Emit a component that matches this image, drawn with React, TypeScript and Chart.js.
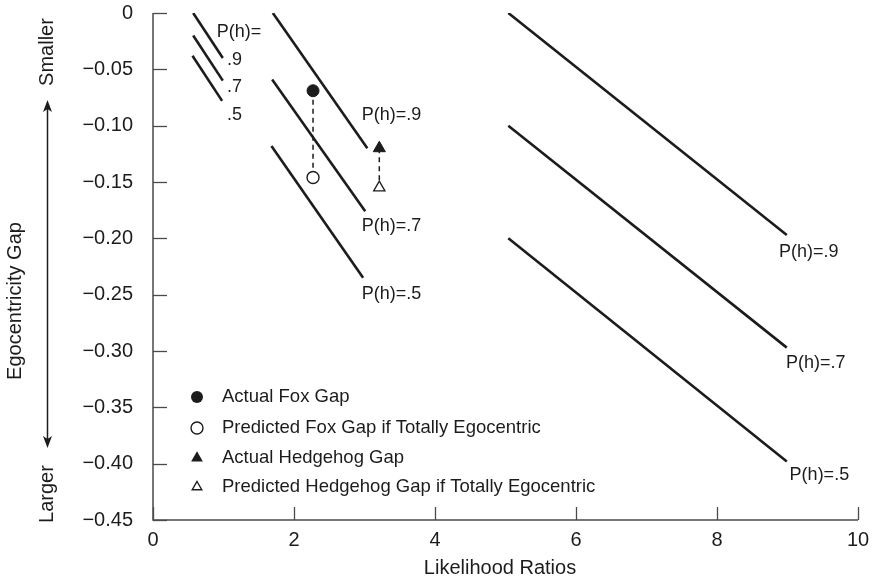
import React, { useEffect, useRef } from "react";
import { Chart, registerables } from "chart.js";

Chart.register(...registerables);

// ---- tick values ----
const X_TICKS = [0, 2, 4, 6, 8, 10];
const Y_TICKS = [0, -0.05, -0.1, -0.15, -0.2, -0.25, -0.3, -0.35, -0.4, -0.45];

// ---- P(h) curves (segments) ----
const KEY_P9 = [{ x: 0.57, y: 0 }, { x: 0.99, y: -0.04 }];
const KEY_P7 = [{ x: 0.57, y: -0.02 }, { x: 0.99, y: -0.06 }];
const KEY_P5 = [{ x: 0.56, y: -0.038 }, { x: 0.98, y: -0.078 }];

const MID_P9 = [{ x: 1.7, y: 0 }, { x: 3.04, y: -0.12 }];
const MID_P7 = [{ x: 1.69, y: -0.059 }, { x: 3.01, y: -0.176 }];
const MID_P5 = [{ x: 1.68, y: -0.118 }, { x: 2.98, y: -0.235 }];

const RIGHT_P9 = [{ x: 5.04, y: 0 }, { x: 8.99, y: -0.197 }];
const RIGHT_P7 = [{ x: 5.04, y: -0.1 }, { x: 8.99, y: -0.297 }];
const RIGHT_P5 = [{ x: 5.04, y: -0.2 }, { x: 8.99, y: -0.398 }];

// ---- observed / predicted gaps ----
const FOX_X = 2.27;
const FOX_ACTUAL = -0.069;
const FOX_PREDICTED = -0.146;
const HEDGEHOG_X = 3.21;
const HEDGEHOG_ACTUAL = -0.12;
const HEDGEHOG_PREDICTED = -0.155;

// ---- text ----
const LEGEND_LABELS = [
  "Actual Fox Gap",
  "Predicted Fox Gap if Totally Egocentric",
  "Actual Hedgehog Gap",
  "Predicted Hedgehog Gap if Totally Egocentric",
];
const CURVE_LABELS = [
  { text: "P(h)=", x: 0.905, y: -0.017 },
  { text: ".9", x: 1.05, y: -0.042 },
  { text: ".7", x: 1.05, y: -0.066 },
  { text: ".5", x: 1.05, y: -0.091 },
  { text: "P(h)=.9", x: 2.96, y: -0.091 },
  { text: "P(h)=.7", x: 2.96, y: -0.189 },
  { text: "P(h)=.5", x: 2.96, y: -0.249 },
  { text: "P(h)=.9", x: 8.88, y: -0.212 },
  { text: "P(h)=.7", x: 8.98, y: -0.311 },
  { text: "P(h)=.5", x: 9.03, y: -0.41 },
];
const X_TITLE = "Likelihood Ratios";
const Y_TITLE = "Egocentricity Gap";
const Y_TOP_NOTE = "Smaller";
const Y_BOTTOM_NOTE = "Larger";

const FONT = "'Liberation Sans', Arial, Helvetica, sans-serif";
const INK = "#1c1c1c";
const AXIS = "#4a4a4a";

function fmtY(v: number) {
  if (Math.abs(v) < 1e-9) return "0";
  return "\u2212" + Math.abs(v).toFixed(2);
}

function drawMarker(ctx: CanvasRenderingContext2D, kind: string, x: number, y: number, r: number) {
  ctx.save();
  ctx.lineWidth = 1.4;
  ctx.strokeStyle = INK;
  ctx.fillStyle = INK;
  ctx.beginPath();
  if (kind === "circle" || kind === "ocircle") {
    ctx.arc(x, y, r, 0, Math.PI * 2);
  } else {
    const h = r * 1.5;
    const w = r * Math.sqrt(3);
    ctx.moveTo(x, y - r);
    ctx.lineTo(x + w / 2, y - r + h);
    ctx.lineTo(x - w / 2, y - r + h);
    ctx.closePath();
  }
  if (kind === "circle" || kind === "triangle") ctx.fill();
  else {
    ctx.fillStyle = "#fff";
    ctx.fill();
    ctx.stroke();
  }
  ctx.restore();
}

const decorPlugin = {
  id: "decor",
  afterDraw(chart: any) {
    const ctx: CanvasRenderingContext2D = chart.ctx;
    const xs = chart.scales.x;
    const ys = chart.scales.y;
    const { left, right, top, bottom } = chart.chartArea;
    ctx.save();
    // axes
    ctx.strokeStyle = AXIS;
    ctx.lineWidth = 1.5;
    ctx.beginPath();
    ctx.moveTo(left, top);
    ctx.lineTo(left, bottom);
    ctx.lineTo(right, bottom);
    ctx.stroke();
    // inward ticks
    ctx.lineWidth = 1.3;
    for (const v of Y_TICKS) {
      const py = Math.round(ys.getPixelForValue(v)) + 0.5;
      ctx.beginPath();
      ctx.moveTo(left, py);
      ctx.lineTo(left + 14, py);
      ctx.stroke();
    }
    for (const v of X_TICKS) {
      const px = Math.round(xs.getPixelForValue(v)) + 0.5;
      ctx.beginPath();
      ctx.moveTo(px, bottom);
      ctx.lineTo(px, bottom - 13);
      ctx.stroke();
    }

    // curve labels
    ctx.fillStyle = INK;
    ctx.font = `18px ${FONT}`;
    ctx.textAlign = "left";
    ctx.textBaseline = "middle";
    for (const l of CURVE_LABELS) {
      ctx.fillText(l.text, xs.getPixelForValue(l.x), ys.getPixelForValue(l.y));
    }

    // legend
    const kinds = ["circle", "ocircle", "triangle", "otriangle"];
    const rowY = [397, 428, 458, 487];
    const radii = [6, 6, 6.8, 5.5];
    LEGEND_LABELS.forEach((t, i) => {
      drawMarker(ctx, kinds[i], 197, rowY[i], radii[i]);
      ctx.fillStyle = INK;
      ctx.font = `18.5px ${FONT}`;
      ctx.textAlign = "left";
      ctx.textBaseline = "middle";
      ctx.fillText(t, 222, rowY[i]);
    });

    // x title
    ctx.font = `20px ${FONT}`;
    ctx.textAlign = "center";
    ctx.textBaseline = "middle";
    ctx.fillText(X_TITLE, 500, 568);

    // rotated y texts
    const rot = (text: string, x: number, y: number) => {
      ctx.save();
      ctx.translate(x, y);
      ctx.rotate(-Math.PI / 2);
      ctx.textAlign = "center";
      ctx.textBaseline = "middle";
      ctx.fillText(text, 0, 0);
      ctx.restore();
    };
    rot(Y_TITLE, 15, 301);
    rot(Y_TOP_NOTE, 47, 52);
    rot(Y_BOTTOM_NOTE, 47, 494);

    // double arrow
    const ax = 47.5;
    const t0 = 100;
    const t1 = 448;
    ctx.strokeStyle = INK;
    ctx.lineWidth = 1.5;
    ctx.beginPath();
    ctx.moveTo(ax, t0 + 8);
    ctx.lineTo(ax, t1 - 8);
    ctx.stroke();
    ctx.beginPath();
    ctx.moveTo(ax, t0);
    ctx.lineTo(ax + 4.5, t0 + 12);
    ctx.lineTo(ax, t0 + 9);
    ctx.lineTo(ax - 4.5, t0 + 12);
    ctx.closePath();
    ctx.fill();
    ctx.beginPath();
    ctx.moveTo(ax, t1);
    ctx.lineTo(ax + 4.5, t1 - 12);
    ctx.lineTo(ax, t1 - 9);
    ctx.lineTo(ax - 4.5, t1 - 12);
    ctx.closePath();
    ctx.fill();
    ctx.restore();
  },
};

function lineSet(data: { x: number; y: number }[]) {
  return {
    data,
    showLine: true,
    borderColor: INK,
    borderWidth: 2.6,
    pointRadius: 0,
    pointHoverRadius: 0,
    order: 5,
  };
}

export default function App() {
  const ref = useRef<HTMLCanvasElement | null>(null);

  useEffect(() => {
    if (!ref.current) return;
    Chart.defaults.font.family = FONT;
    const chart = new Chart(ref.current, {
      type: "scatter",
      data: {
        datasets: [
          lineSet(KEY_P9),
          lineSet(KEY_P7),
          lineSet(KEY_P5),
          lineSet(MID_P9),
          lineSet(MID_P7),
          lineSet(MID_P5),
          lineSet(RIGHT_P9),
          lineSet(RIGHT_P7),
          lineSet(RIGHT_P5),
          {
            data: [
              { x: FOX_X, y: FOX_ACTUAL },
              { x: FOX_X, y: FOX_PREDICTED },
            ],
            showLine: true,
            borderColor: INK,
            borderWidth: 1.5,
            borderDash: [5, 4],
            pointRadius: 0,
            order: 4,
          },
          {
            data: [
              { x: HEDGEHOG_X, y: HEDGEHOG_ACTUAL },
              { x: HEDGEHOG_X, y: HEDGEHOG_PREDICTED },
            ],
            showLine: true,
            borderColor: INK,
            borderWidth: 1.5,
            borderDash: [5, 4],
            pointRadius: 0,
            order: 4,
          },
          {
            data: [{ x: FOX_X, y: FOX_ACTUAL }],
            pointStyle: "circle",
            pointRadius: 6,
            pointBackgroundColor: INK,
            pointBorderColor: INK,
            pointBorderWidth: 1,
            order: 1,
          },
          {
            data: [{ x: FOX_X, y: FOX_PREDICTED }],
            pointStyle: "circle",
            pointRadius: 6,
            pointBackgroundColor: "#ffffff",
            pointBorderColor: INK,
            pointBorderWidth: 1.4,
            order: 1,
          },
          {
            data: [{ x: HEDGEHOG_X, y: HEDGEHOG_ACTUAL }],
            pointStyle: "triangle",
            pointRadius: 7,
            pointBackgroundColor: INK,
            pointBorderColor: INK,
            pointBorderWidth: 1,
            order: 1,
          },
          {
            data: [{ x: HEDGEHOG_X, y: HEDGEHOG_PREDICTED }],
            pointStyle: "triangle",
            pointRadius: 6.5,
            pointBackgroundColor: "#ffffff",
            pointBorderColor: INK,
            pointBorderWidth: 1.3,
            order: 1,
          },
        ],
      },
      options: {
        responsive: false,
        animation: false,
        events: [],
        layout: { padding: { top: 13, right: 20, left: 0, bottom: 0 } },
        plugins: {
          legend: { display: false },
          tooltip: { enabled: false },
        },
        scales: {
          x: {
            type: "linear",
            min: 0,
            max: 10,
            grid: { display: false, drawTicks: false },
            border: { display: false },
            afterBuildTicks: (s: any) => {
              s.ticks = X_TICKS.map((v) => ({ value: v }));
            },
            afterFit: (s: any) => {
              s.height = 64;
              s.paddingLeft = 0;
              s.paddingRight = 0;
            },
            ticks: {
              padding: 8,
              maxRotation: 0,
              autoSkip: false,
              color: INK,
              font: { size: 20, family: FONT },
              callback: (v: any) => String(v),
            },
          },
          y: {
            type: "linear",
            min: -0.45,
            max: 0,
            grid: { display: false, drawTicks: false },
            border: { display: false },
            afterBuildTicks: (s: any) => {
              s.ticks = Y_TICKS.map((v) => ({ value: v }));
            },
            afterFit: (s: any) => {
              s.width = 153;
              s.paddingTop = 0;
              s.paddingBottom = 0;
            },
            ticks: {
              padding: 20,
              autoSkip: false,
              color: INK,
              font: { size: 20, family: FONT },
              callback: (v: any) => fmtY(Number(v)),
            },
          },
        },
      },
      plugins: [decorPlugin],
    } as any);
    return () => chart.destroy();
  }, []);

  return (
    <div style={{ position: "absolute", left: 0, top: 0, width: 878, height: 584, background: "#fff" }}>
      <canvas ref={ref} width={878} height={584} style={{ display: "block" }} />
    </div>
  );
}
